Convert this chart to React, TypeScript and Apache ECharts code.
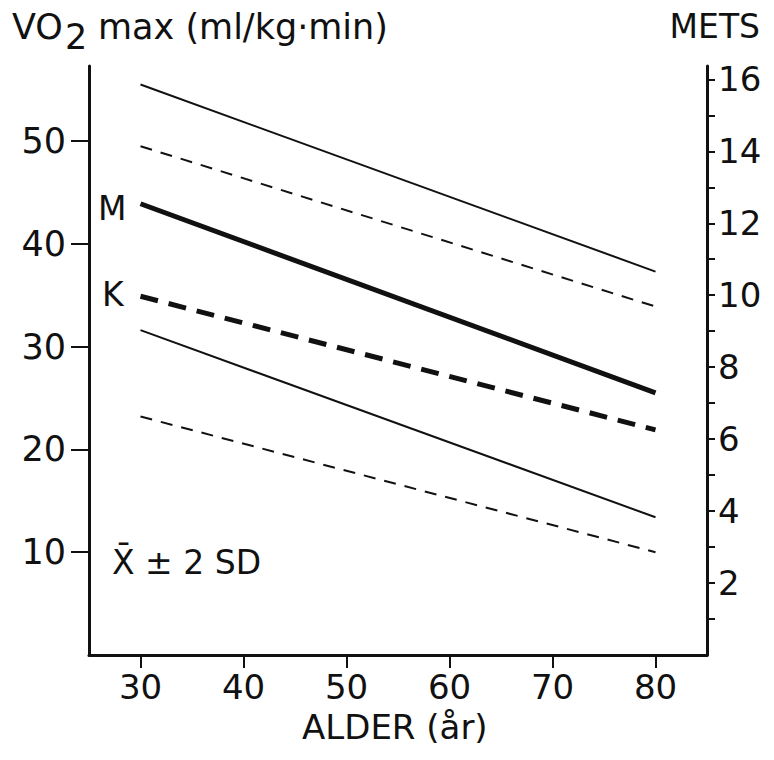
import React, { useEffect, useRef } from "react";
import * as echarts from "echarts";

// ---- data ----
const ages = [30, 80];
const mPlus2SD = [55.5, 37.3];
const kPlus2SD = [49.5, 33.9];
const mMean = [43.9, 25.5];
const kMean = [34.9, 21.9];
const mMinus2SD = [31.6, 13.4];
const kMinus2SD = [23.2, 10.0];

const xTicks = [30, 40, 50, 60, 70, 80];
const vo2Ticks = [10, 20, 30, 40, 50];
const metsTicks = [1, 2, 3, 4, 5, 6, 7, 8, 9, 10, 11, 12, 13, 14, 15, 16];
const metsLabels = [2, 4, 6, 8, 10, 12, 14, 16];

const FONT = "DejaVu Sans";
const INK = "#111";

const pts = (vals: number[]) => ages.map((a, i) => [a, vals[i]]);

export default function App() {
  const ref = useRef<HTMLDivElement>(null);
  useEffect(() => {
    if (!ref.current) return;
    const chart = echarts.init(ref.current, undefined, { renderer: "svg" });
    const vmax = 57.3;
    const line = (name: string, vals: number[], width: number, type: any) => ({
      name,
      type: "line",
      data: pts(vals),
      showSymbol: false,
      symbol: "none",
      lineStyle: { color: INK, width, type, cap: "butt" },
      z: 3,
    });
    chart.setOption({
      animation: false,
      backgroundColor: "#fff",
      grid: { left: 89, right: 67, top: 66, bottom: 105 },
      xAxis: {
        type: "value",
        min: 25,
        max: 85,
        splitLine: { show: false },
        axisLine: { show: true, onZero: false, lineStyle: { color: INK, width: 3 } },
        axisTick: { show: true, customValues: xTicks, length: 13, lineStyle: { color: INK, width: 2 } },
        axisLabel: { customValues: xTicks, margin: 17, color: INK, fontFamily: FONT, fontSize: 34, lineHeight: 30 },
      },
      yAxis: [
        {
          type: "value",
          min: 0,
          max: vmax,
          position: "left",
          splitLine: { show: false },
          axisLine: { show: true, onZero: false, lineStyle: { color: INK, width: 3 } },
          axisTick: { show: true, customValues: vo2Ticks, length: 18, lineStyle: { color: INK, width: 2 } },
          axisLabel: { customValues: vo2Ticks, margin: 23, color: INK, fontFamily: FONT, fontSize: 35 },
        },
        {
          type: "value",
          min: 0,
          max: vmax / 3.5,
          position: "right",
          splitLine: { show: false },
          axisLine: { show: true, onZero: false, lineStyle: { color: INK, width: 3 } },
          axisTick: { show: true, customValues: metsTicks, length: 8, lineStyle: { color: INK, width: 2 } },
          axisLabel: { customValues: metsLabels, margin: 11, color: INK, fontFamily: FONT, fontSize: 34 },
        },
      ],
      series: [
        line("M + 2 SD", mPlus2SD, 2, "solid"),
        line("K + 2 SD", kPlus2SD, 2, [12, 9]),
        line("M", mMean, 5, "solid"),
        line("K", kMean, 5, [18, 11]),
        line("M - 2 SD", mMinus2SD, 2, "solid"),
        line("K - 2 SD", kMinus2SD, 2, [12, 9]),
      ],
      graphic: [
        { type: "text", left: 12, top: 9, style: { text: "VO", font: `35px '${FONT}'`, fill: INK } },
        { type: "text", left: 65, top: 19, style: { text: "2", font: `35px '${FONT}'`, fill: INK } },
        { type: "text", left: 98, top: 9, style: { text: "max (ml/kg·min)", font: `35px '${FONT}'`, fill: INK } },
        { type: "text", right: 14, top: 10, style: { text: "METS", font: `33px '${FONT}'`, fill: INK } },
        { type: "text", left: 302, top: 710, style: { text: "ALDER (år)", font: `34px '${FONT}'`, fill: INK, lineHeight: 32 } },
        { type: "text", left: 98, top: 192, style: { text: "M", font: `33px '${FONT}'`, fill: INK } },
        { type: "text", left: 102, top: 278, style: { text: "K", font: `33px '${FONT}'`, fill: INK } },
        { type: "text", left: 112, top: 546, style: { text: "X̄ ± 2 SD", font: `33px '${FONT}'`, fill: INK } },
      ],
    });
    return () => chart.dispose();
  }, []);
  return (
    <div
      ref={ref}
      style={{ position: "fixed", left: 0, top: 0, width: 774, height: 760, background: "#fff" }}
    />
  );
}
